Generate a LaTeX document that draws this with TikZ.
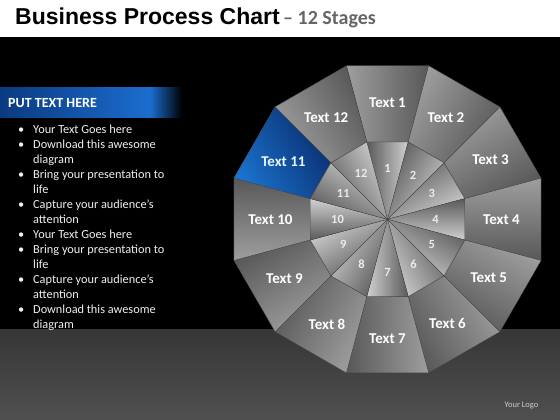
\documentclass[tikz,border=0pt]{standalone}
\usepackage{fontspec}
\setmainfont{Carlito}
\newfontfamily\headfont{Liberation Sans}
\usepackage{tikz}
\usetikzlibrary{shapes}

\definecolor{floortop}{HTML}{363636}
\definecolor{floorbot}{HTML}{505050}
\definecolor{bannerdark}{HTML}{0B3A80}
\definecolor{bannerlight}{HTML}{1B6DCF}
\definecolor{segdark}{HTML}{585858}
\definecolor{seglight}{HTML}{9E9E9E}
\definecolor{wedgedark}{HTML}{5A5A5A}
\definecolor{wedgelight}{HTML}{D0D0D0}
\definecolor{bluedark}{HTML}{0A2C6E}
\definecolor{bluelight}{HTML}{1A72CC}
\definecolor{subgray}{HTML}{666666}
\definecolor{edgegray}{HTML}{444444}

\tikzset{
  seglabel/.style={text=white, inner sep=0pt, font=\bfseries\fontsize{15}{17}\selectfont},
  numlabel/.style={text=white!92!black, inner sep=0pt, font=\bfseries\fontsize{12.5}{14}\selectfont},
}

\begin{document}
\begin{tikzpicture}[x=1pt,y=1pt]
\useasboundingbox (0,0) rectangle (560,420);

% background, title bar and floor
\fill[black] (0,0) rectangle (560,383);
\fill[white] (0,383) rectangle (560,420);
\shade[top color=floortop, bottom color=floorbot] (0,0) rectangle (560,90);

\node (title) at (15,395) [anchor=base west, inner sep=0pt, font=\headfont\bfseries\fontsize{23}{26}\selectfont] {Business Process Chart};
\node (sub) at (title.base east) [anchor=base west, inner sep=0pt, xshift=3pt, text=subgray, font=\bfseries\fontsize{20}{22}\selectfont] {-- 12 Stages};

% left panel
\shade[left color=bannerdark, right color=bannerlight] (0,302) rectangle (150,332);
\shade[left color=bannerlight, right color=black] (150,302) rectangle (182,332);
\node (head) at (8,317) [anchor=west, inner sep=0pt, text=white, font=\bfseries\fontsize{14}{16}\selectfont] {PUT TEXT HERE};

\node (list) at (18,297.5) [anchor=north west, inner sep=0pt, text=white!94!black, font=\fontsize{12.3}{15}\selectfont] {%
\begin{tabular}{@{}p{15pt}@{}l@{}}
\textbullet & Your Text Goes here\\
\textbullet & Download this awesome\\
 & diagram\\
\textbullet & Bring your presentation to\\
 & life\\
\textbullet & Capture your audience’s\\
 & attention\\
\textbullet & Your Text Goes here\\
\textbullet & Bring your presentation to\\
 & life\\
\textbullet & Capture your audience’s\\
 & attention\\
\textbullet & Download this awesome\\
 & diagram
\end{tabular}};

\node (logo) at (521.5,14.5) [inner sep=0pt, text=white!80!black, font=\fontsize{8.5}{10}\selectfont] {Your Logo};

% the 12 stage chart
\begin{scope}[shift={(387.5,200.7)}]
\foreach \a in {90,60,...,-240}
  \shadedraw[draw=edgegray, line width=0.3pt, top color=seglight, bottom color=segdark, shading angle=\a]
    (\a+15:159) -- (\a-15:159) -- (\a-15:80) -- (\a+15:80) -- cycle;
\shadedraw[draw=edgegray, line width=0.3pt, top color=bluelight, bottom color=bluedark, shading angle=120]
  (165:159) -- (135:159) -- (135:80) -- (165:80) -- cycle;
\foreach \a in {90,60,...,-240}
  \shadedraw[draw=edgegray, line width=0.3pt, top color=wedgedark, bottom color=wedgelight, shading angle=\a]
    (0,0) -- (\a+15:80) -- (\a-15:80) -- cycle;

\node (T1) at (90:117) [seglabel] {Text 1};
\node (T2) at (60:117) [seglabel] {Text 2};
\node (T3) at (30:119) [seglabel] {Text 3};
\node (T4) at (0:114) [seglabel] {Text 4};
\node (T5) at (-30:117) [seglabel] {Text 5};
\node (T6) at (-60:120) [seglabel] {Text 6};
\node (T7) at (-90:119) [seglabel] {Text 7};
\node (T8) at (-120:121) [seglabel] {Text 8};
\node (T9) at (-150:119) [seglabel] {Text 9};
\node (T10) at (180:117) [seglabel] {Text 10};
\node (T11) at (151:119) [seglabel, text=white!90!cyan] {Text 11};
\node (T12) at (121:119) [seglabel] {Text 12};

\node (N1) at (90:51) [numlabel] {1};
\node (N2) at (60:51) [numlabel] {2};
\node (N3) at (30:51) [numlabel] {3};
\node (N4) at (0:48) [numlabel] {4};
\node (N5) at (-30:51) [numlabel] {5};
\node (N6) at (-60:52) [numlabel] {6};
\node (N7) at (-90:53) [numlabel] {7};
\node (N8) at (-120:52) [numlabel] {8};
\node (N9) at (-150:51) [numlabel] {9};
\node (N10) at (180:50) [numlabel] {10};
\node (N11) at (150:51) [numlabel] {11};
\node (N12) at (120:53) [numlabel] {12};
\end{scope}
\end{tikzpicture}
\end{document}
